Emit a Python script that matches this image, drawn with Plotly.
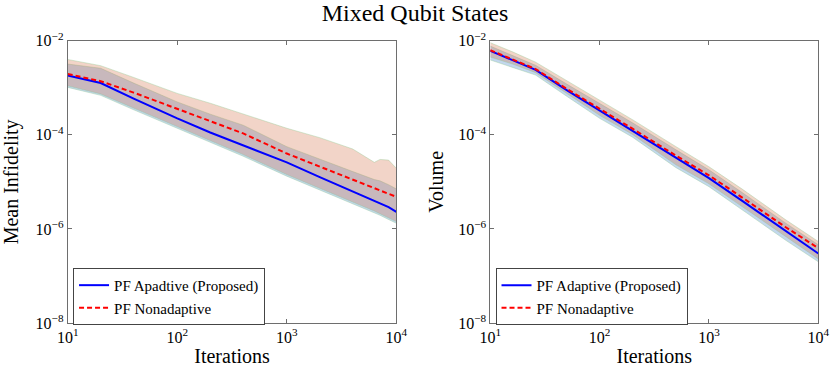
import plotly.graph_objects as go

# ---- left panel: mean infidelity ----
iters_inf = [10, 20, 40, 100, 200, 400, 1000, 2000, 4000, 6300, 7100, 8500, 10000]
adaptive_inf = [1.83e-3, 1.26e-3, 5.9e-4, 2.23e-4, 1.12e-4, 5.9e-5, 2.6e-5, 1.26e-5, 6.2e-6, 4.0e-6, 3.55e-6, 2.9e-6, 2.3e-6]
adaptive_inf_lo = [1.02e-3, 6.9e-4, 3.4e-4, 1.38e-4, 6.8e-5, 3.5e-5, 1.32e-5, 6.8e-6, 3.5e-6, 2.2e-6, 1.95e-6, 1.58e-6, 1.32e-6]
adaptive_inf_hi = [3.2e-3, 2.6e-3, 1.26e-3, 5.0e-4, 2.75e-4, 1.6e-4, 5.6e-5, 3.0e-5, 1.66e-5, 1.12e-5, 1.05e-5, 8.7e-6, 7.1e-6]
nonadaptive_inf = [1.96e-3, 1.38e-3, 7.9e-4, 3.6e-4, 2.0e-4, 1.07e-4, 4.0e-5, 2.1e-5, 1.12e-5, 7.2e-6, 6.6e-6, 5.6e-6, 4.8e-6]
nonadaptive_inf_lo = [1.1e-3, 7.4e-4, 3.7e-4, 1.5e-4, 7.4e-5, 3.8e-5, 1.43e-5, 7.4e-6, 3.8e-6, 2.4e-6, 2.1e-6, 1.72e-6, 1.43e-6]
nonadaptive_inf_hi = [4.0e-3, 2.95e-3, 1.66e-3, 7.6e-4, 4.7e-4, 2.8e-4, 1.38e-4, 8.7e-5, 5.0e-5, 2.6e-5, 3.0e-5, 2.9e-5, 1.95e-5]

# ---- right panel: volume ----
iters_vol = [10, 16, 26, 50, 100, 200, 500, 1000, 2000, 5000, 10000]
adaptive_vol = [6.1e-3, 3.9e-3, 2.4e-3, 8.9e-4, 3.3e-4, 1.23e-4, 3.2e-5, 1.2e-5, 4.0e-6, 9.1e-7, 3.0e-7]
adaptive_vol_lo = [3.9e-3, 2.75e-3, 1.86e-3, 6.6e-4, 2.24e-4, 8.9e-5, 2.0e-5, 7.9e-6, 2.6e-6, 5.8e-7, 2.0e-7]
adaptive_vol_hi = [7.7e-3, 4.9e-3, 3.0e-3, 1.2e-3, 4.7e-4, 1.8e-4, 4.8e-5, 1.8e-5, 6.0e-6, 1.34e-6, 4.6e-7]
nonadaptive_vol = [6.3e-3, 4.0e-3, 2.5e-3, 9.5e-4, 3.6e-4, 1.35e-4, 3.6e-5, 1.38e-5, 4.7e-6, 1.1e-6, 3.9e-7]
nonadaptive_vol_lo = [4.5e-3, 3.2e-3, 2.1e-3, 7.6e-4, 2.6e-4, 1.02e-4, 2.3e-5, 9.1e-6, 3.0e-6, 6.7e-7, 2.3e-7]
nonadaptive_vol_hi = [9.1e-3, 5.8e-3, 3.5e-3, 1.41e-3, 5.5e-4, 2.1e-4, 5.6e-5, 2.1e-5, 7.1e-6, 1.58e-6, 5.4e-7]

x_ticks = [10, 100, 1000, 10000]
x_ticktext = ["10<sup>1</sup>", "10<sup>2</sup>", "10<sup>3</sup>", "10<sup>4</sup>"]
y_ticks = [1e-8, 1e-6, 1e-4, 1e-2]
y_ticktext = ["10<sup>−8</sup>", "10<sup>−6</sup>", "10<sup>−4</sup>", "10<sup>−2</sup>"]

FONT = "Liberation Serif"
BLUE_FILL = "rgba(55,122,200,0.3)"
RED_FILL = "rgba(212,112,72,0.3)"
EDGE = "rgba(140,200,140,0.6)"

fig = go.Figure()


def add_panel(xa, ya, legend, x, mean_a, lo_a, hi_a, mean_n, lo_n, hi_n, name_a):
    # shaded bands: adaptive first, nonadaptive on top
    for lo, hi, fill in [(lo_a, hi_a, BLUE_FILL), (lo_n, hi_n, RED_FILL)]:
        fig.add_trace(go.Scatter(x=x, y=lo, mode="lines", line=dict(color=EDGE, width=0.6),
                                 showlegend=False, hoverinfo="skip", xaxis=xa, yaxis=ya))
        fig.add_trace(go.Scatter(x=x, y=hi, mode="lines", line=dict(color=EDGE, width=0.6),
                                 fill="tonexty", fillcolor=fill,
                                 showlegend=False, hoverinfo="skip", xaxis=xa, yaxis=ya))
    fig.add_trace(go.Scatter(x=x, y=mean_a, mode="lines", name=name_a,
                             line=dict(color="rgb(0,0,255)", width=2),
                             xaxis=xa, yaxis=ya, legend=legend))
    fig.add_trace(go.Scatter(x=x, y=mean_n, mode="lines", name="PF Nonadaptive",
                             line=dict(color="rgb(255,0,0)", width=2, dash="5px,3px"),
                             xaxis=xa, yaxis=ya, legend=legend))


add_panel("x", "y", "legend", iters_inf, adaptive_inf, adaptive_inf_lo, adaptive_inf_hi,
          nonadaptive_inf, nonadaptive_inf_lo, nonadaptive_inf_hi, "PF Apadtive (Proposed)")
add_panel("x2", "y2", "legend2", iters_vol, adaptive_vol, adaptive_vol_lo, adaptive_vol_hi,
          nonadaptive_vol, nonadaptive_vol_lo, nonadaptive_vol_hi, "PF Adaptive (Proposed)")

axis_common = dict(type="log", showgrid=False, zeroline=False, showline=True, mirror="ticks",
                   linecolor="#6e6e6e", linewidth=1, ticks="inside", ticklen=4,
                   tickcolor="#6e6e6e", tickfont=dict(size=16, color="black"), automargin=False)

xaxis = dict(axis_common, range=[1, 4], tickvals=x_ticks, ticktext=x_ticktext,
             title=dict(text="Iterations", font=dict(size=20), standoff=7))
yaxis = dict(axis_common, range=[-8, -2], tickvals=y_ticks, ticktext=y_ticktext)

legend_common = dict(bgcolor="white", bordercolor="#444", borderwidth=1,
                     font=dict(size=15, family=FONT, color="black"),
                     xanchor="left", yanchor="top", tracegroupgap=0, traceorder="normal")

fig.update_layout(
    width=830, height=367,
    margin=dict(l=0, r=0, t=0, b=0),
    paper_bgcolor="white", plot_bgcolor="white",
    font=dict(family=FONT, color="black"),
    title=dict(text="Mixed Qubit States", x=0.5, xanchor="center", y=0.967, yanchor="middle",
               font=dict(size=24)),
    xaxis=dict(xaxis, domain=[0.0816, 0.4775], anchor="y"),
    yaxis=dict(yaxis, domain=[0.1199, 0.889], anchor="x",
               title=dict(text="Mean Infidelity", font=dict(size=20), standoff=12)),
    xaxis2=dict(xaxis, domain=[0.5907, 0.9859], anchor="y2"),
    yaxis2=dict(yaxis, domain=[0.1199, 0.889], anchor="x2",
                title=dict(text="Volume", font=dict(size=20), standoff=9)),
    legend=dict(legend_common, x=0.088, y=0.27),
    legend2=dict(legend_common, x=0.597, y=0.27),
)

fig.write_html("out.html", config={"displayModeBar": False},
               post_script="document.body.style.margin='0px';")
